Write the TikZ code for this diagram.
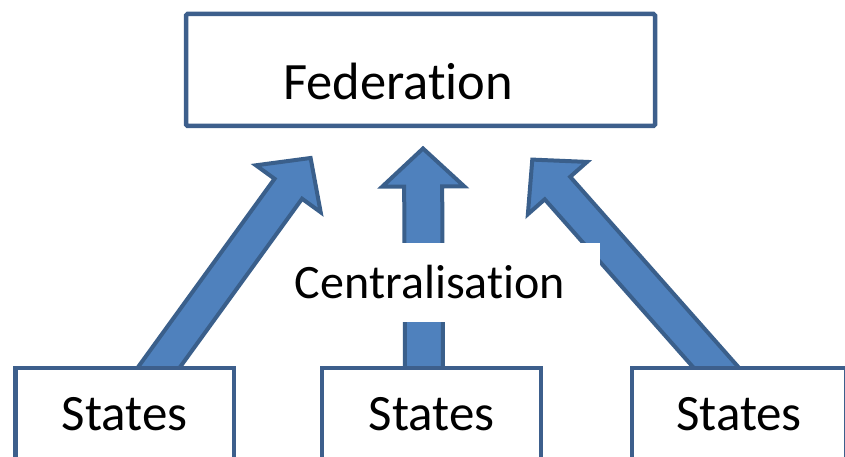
\documentclass[tikz,border=0pt]{standalone}
\usepackage{fontspec}
\setmainfont{Carlito}[Ligatures=NoCommon]
\usetikzlibrary{calc}
\definecolor{arrfill}{HTML}{4F81BD}
\definecolor{arredge}{HTML}{3A5F8B}
\definecolor{boxedge}{HTML}{3D5F8C}
% #1 start coordinate, #2 tip coordinate, #3 shaft half width, #4 head half width, #5 head length
\newcommand\blockarrow[5]{%
  \coordinate (hb) at ($(#2)!#5!(#1)$);
  \coordinate (bs) at ($(#1)!-25pt!(#2)$);
  \draw[blockarr]
    ($(bs)!#3!-90:(#2)$) -- ($(hb)!#3!-90:(#2)$) -- ($(hb)!#4!-90:(#2)$) --
    (#2) --
    ($(hb)!#4!90:(#2)$) -- ($(hb)!#3!90:(#2)$) -- ($(bs)!#3!90:(#2)$) -- cycle;
}
\begin{document}
\begin{tikzpicture}[x=1pt,y=1pt,
  blockarr/.style={fill=arrfill, draw=arredge, line width=4pt, line join=miter},
  statebox/.style={draw=boxedge, fill=white, line width=4.5pt, inner sep=0pt, outer sep=0pt,
    minimum height=92pt, font=\fontsize{51}{60}\selectfont},
  fedbox/.style={draw=boxedge, fill=white, line width=4.5pt, inner sep=0pt, outer sep=0pt,
    rounded corners=1.5pt}
]
\useasboundingbox (0,0) rectangle (845,456);
\clip (0,0) rectangle (845,456);

% States box positions (boxes drawn later, on top of the arrow bases)
\path (124.75,42) coordinate (s1c);
\path (431.5,42) coordinate (s2c);
\path (739,42) coordinate (s3c);

% Federation box
\node[fedbox, minimum width=469pt, minimum height=112pt] (fed) at (420.5,386) {};
\node[font=\fontsize{52.5}{60}\selectfont, anchor=base, inner sep=0pt] (fedtext) at (398,356) {Federation};

% arrow start/tip coordinates
\coordinate (a1s) at (158.4,88);
\coordinate (a1t) at (310.6,298);
\coordinate (a2s) at (424,88);
\coordinate (a2t) at (423,307.5);
\coordinate (a3s) at (716.5,88);
\coordinate (a3t) at (532.3,296.4);

\blockarrow{a1s}{a1t}{17pt}{40pt}{38pt}
\blockarrow{a2s}{a2t}{19pt}{41pt}{38pt}
\blockarrow{a3s}{a3t}{17pt}{39.5pt}{38pt}

% Centralisation label with white background
\fill[white] (285,134) rectangle (600,213);
\node[font=\fontsize{48}{60}\selectfont, anchor=base, inner sep=0pt] (cent) at (430,158) {Centralisation};

% States boxes
\node[statebox, minimum width=218.5pt] (s1) at (s1c) {States};
\node[statebox, minimum width=219pt] (s2) at (s2c) {States};
\node[statebox, minimum width=214pt] (s3) at (s3c) {States};
\end{tikzpicture}
\end{document}
